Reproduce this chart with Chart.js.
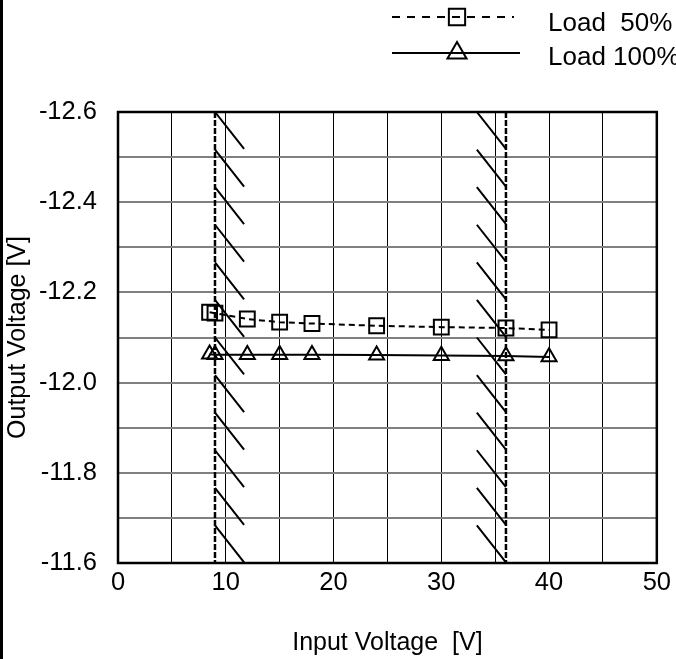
<!DOCTYPE html>
<html><head><meta charset="utf-8">
<script src="https://cdn.jsdelivr.net/npm/chart.js@4.4.1/dist/chart.umd.min.js"></script>
<style>html,body{margin:0;padding:0;background:#fff;}#wrap{width:676px;height:659px;position:relative;}</style>
</head><body><div id="wrap"><canvas id="c" width="676" height="659"></canvas></div>
<script>
// ---- data ----
const inputVoltage = [8.5, 9, 12, 15, 18, 24, 30, 36, 40];
const load50 = [-12.156, -12.154, -12.141, -12.134, -12.131, -12.126, -12.123, -12.121, -12.117];
const load100 = [-12.063, -12.062, -12.062, -12.062, -12.062, -12.061, -12.060, -12.059, -12.057];
const seriesLabels = ['Load  50%', 'Load 100%'];
const xTickLabels = ['0', '10', '20', '30', '40', '50'];
const yTickLabels = ['-12.6', '-12.4', '-12.2', '-12.0', '-11.8', '-11.6'];
const limitVoltages = [9, 36];
const hatchStartY = [-12.6, -12.5167, -12.4333, -12.35, -12.2667, -12.1833, -12.1, -12.0167, -11.9333, -11.85, -11.7667, -11.6833];
const hatchDx = 2.7, hatchDy = 0.082;

const FONT = '"Liberation Sans", Arial, sans-serif';

function pairs(xs, ys) { return xs.map((x, i) => ({x: x, y: ys[i]})); }
function hatch(x0, x1) {
  const pts = [];
  hatchStartY.forEach(y => { pts.push({x: x0, y: y}); pts.push({x: x1, y: y + hatchDy}); pts.push({x: x1, y: null}); });
  return pts;
}
const deco = {showLine: true, pointRadius: 0, pointHoverRadius: 0, borderColor: '#000', fill: false, spanGaps: false};

const datasets = [
  Object.assign({}, deco, {data: [{x: limitVoltages[0], y: -12.6}, {x: limitVoltages[0], y: -11.6}], borderWidth: 2.5, borderDash: [6, 2]}),
  Object.assign({}, deco, {data: [{x: limitVoltages[1], y: -12.6}, {x: limitVoltages[1], y: -11.6}], borderWidth: 2.5, borderDash: [6, 2]}),
  Object.assign({}, deco, {data: hatch(limitVoltages[0], limitVoltages[0] + hatchDx), borderWidth: 2}),
  Object.assign({}, deco, {data: hatch(limitVoltages[1] - hatchDx, limitVoltages[1]), borderWidth: 2}),
  {label: seriesLabels[0], data: pairs(inputVoltage, load50), showLine: true, borderColor: '#000', borderWidth: 2, borderDash: [6, 4],
   pointStyle: 'rect', pointRadius: 10.5, pointBorderWidth: 2, pointBackgroundColor: 'rgba(0,0,0,0)', pointBorderColor: '#000'},
  {label: seriesLabels[1], data: pairs(inputVoltage, load100), showLine: true, borderColor: '#000', borderWidth: 2,
   pointStyle: 'triangle', pointRadius: 8.7, pointBorderWidth: 2, pointBackgroundColor: 'rgba(0,0,0,0)', pointBorderColor: '#000'}
];

const framePlugin = {
  id: 'frame',
  beforeDraw(chart) {
    const ctx = chart.ctx;
    ctx.save(); ctx.fillStyle = '#000'; ctx.fillRect(0, 0, 3, chart.height); ctx.restore();
  },
  afterDatasetsDraw(chart) {
    const ctx = chart.ctx, a = chart.chartArea;
    ctx.save(); ctx.strokeStyle = '#000'; ctx.lineWidth = 2.5; ctx.setLineDash([]);
    ctx.strokeRect(a.left, a.top, a.right - a.left, a.bottom - a.top); ctx.restore();
  },
  afterDraw(chart) {
    const ctx = chart.ctx;
    const rows = [
      {ds: chart.data.datasets[4], dash: [8, 7], y: 17, ty: 24, x0: 392, x1: 514, mx: 457, style: 'rect', r: 11.5},
      {ds: chart.data.datasets[5], dash: [], y: 53, ty: 58, x0: 392, x1: 520, mx: 457, style: 'triangle', r: 11}
    ];
    rows.forEach(row => {
      ctx.save();
      ctx.strokeStyle = '#000'; ctx.lineWidth = 2;
      ctx.setLineDash(row.dash);
      ctx.beginPath(); ctx.moveTo(row.x0, row.y); ctx.lineTo(row.x1, row.y); ctx.stroke();
      ctx.setLineDash([]);
      ctx.beginPath();
      if (row.style === 'rect') {
        const s = row.r * Math.SQRT1_2;
        ctx.fillStyle = '#fff';
        ctx.rect(row.mx - s, row.y - s, 2 * s, 2 * s);
      } else {
        for (let k = 0; k < 3; k++) {
          const ang = k * 2 * Math.PI / 3;
          const px = row.mx + Math.sin(ang) * row.r, py = row.y - Math.cos(ang) * row.r;
          if (k === 0) ctx.moveTo(px, py); else ctx.lineTo(px, py);
        }
        ctx.closePath();
      }
      ctx.stroke();
      ctx.fillStyle = '#000'; ctx.font = '26px ' + FONT; ctx.textBaseline = 'middle'; ctx.textAlign = 'left';
      ctx.fillText(row.ds.label, 548, row.ty);
      ctx.restore();
    });
  }
};

new Chart(document.getElementById('c'), {
  type: 'scatter',
  data: {datasets: datasets},
  options: {
    responsive: false, animation: false,
    layout: {padding: {left: 0, right: 17, top: 112, bottom: 0}},
    plugins: {legend: {display: false}, tooltip: {enabled: false}},
    scales: {
      x: {
        type: 'linear', min: 0, max: 50,
        afterFit(s) { s.height = 96; },
        grid: {color: '#000', lineWidth: 1, drawTicks: false},
        border: {display: false},
        ticks: {stepSize: 5, autoSkip: false, maxRotation: 0, padding: 5, color: '#000', font: {family: FONT, size: 25.5},
          callback: v => { const i = xTickLabels.indexOf(String(v)); return i >= 0 ? xTickLabels[i] : ''; }},
        title: {display: true, text: 'Input Voltage  [V]', color: '#000', font: {family: FONT, size: 25}, padding: {top: 0, bottom: 1}}
      },
      y: {
        type: 'linear', min: -12.6, max: -11.6, reverse: true,
        afterFit(s) { s.width = 118; },
        grid: {color: '#808080', lineWidth: 2, drawTicks: false},
        border: {display: false},
        ticks: {stepSize: 0.1, autoSkip: false, padding: 21, color: '#000', font: {family: FONT, size: 25.5},
          callback: v => { const t = v.toFixed(1); return yTickLabels.indexOf(t) >= 0 ? t : ''; }},
        title: {display: true, text: 'Output Voltage [V]', color: '#000', font: {family: FONT, size: 25}, padding: {top: 3, bottom: 0}}
      }
    }
  },
  plugins: [framePlugin]
});
</script></body></html>
